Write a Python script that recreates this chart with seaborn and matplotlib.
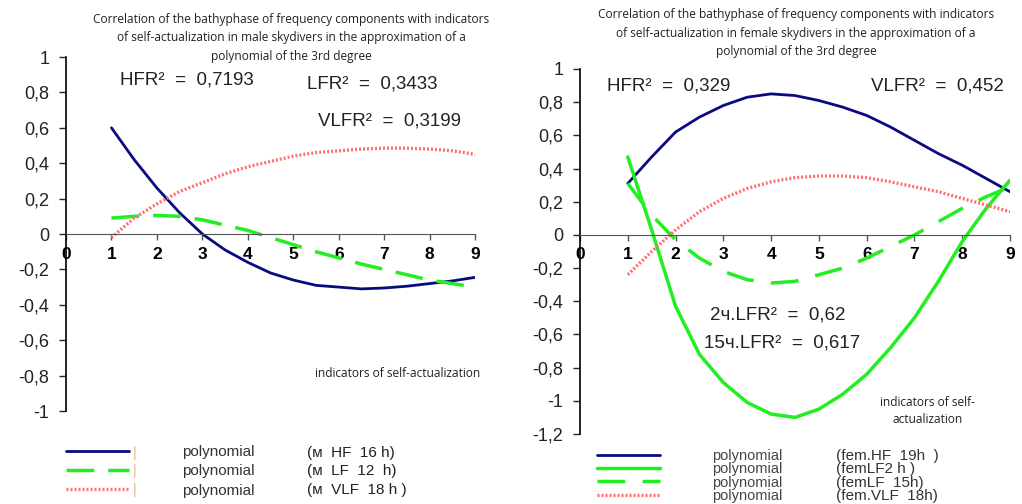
import numpy as np
import pandas as pd
import seaborn as sns
import matplotlib.pyplot as plt

# x positions of the trend lines (indicators of self-actualization)
x_vals = [1, 1.5, 2, 2.5, 3, 3.5, 4, 4.5, 5, 5.5, 6, 6.5, 7, 7.5, 8, 8.5, 9]

# male skydivers
male_hf = [0.60, 0.42, 0.26, 0.12, 0.0, -0.09, -0.16, -0.22, -0.26, -0.29, -0.30,
           -0.31, -0.305, -0.295, -0.28, -0.265, -0.245]
male_lf = [0.09, 0.10, 0.105, 0.10, 0.08, 0.05, 0.02, -0.02, -0.06, -0.10, -0.135,
           -0.17, -0.20, -0.23, -0.26, -0.28, -0.30]
male_vlf = [-0.02, 0.09, 0.17, 0.24, 0.29, 0.34, 0.38, 0.41, 0.44, 0.46, 0.47,
            0.48, 0.485, 0.485, 0.48, 0.47, 0.45]

# female skydivers
fem_hf = [0.31, 0.47, 0.62, 0.71, 0.78, 0.83, 0.85, 0.84, 0.81, 0.77, 0.72,
          0.65, 0.57, 0.49, 0.42, 0.34, 0.26]
fem_lf2 = [0.47, 0.03, -0.43, -0.72, -0.89, -1.01, -1.08, -1.10, -1.05, -0.96, -0.84,
           -0.68, -0.50, -0.28, -0.04, 0.16, 0.33]
fem_lf15 = [0.31, 0.12, -0.03, -0.14, -0.22, -0.27, -0.29, -0.28, -0.24, -0.20, -0.14,
            -0.07, 0.0, 0.08, 0.16, 0.23, 0.29]
fem_vlf = [-0.24, -0.10, 0.03, 0.14, 0.22, 0.28, 0.32, 0.345, 0.355, 0.355, 0.345,
           0.32, 0.29, 0.26, 0.22, 0.18, 0.14]

x_ticks = list(range(10))
male_yticks = [-1, -0.8, -0.6, -0.4, -0.2, 0, 0.2, 0.4, 0.6, 0.8, 1]
male_ylabels = ['-1', '-0,8', '-0,6', '-0,4', '-0,2', '0', '0,2', '0,4', '0,6', '0,8', '1']
fem_yticks = [-1.2, -1, -0.8, -0.6, -0.4, -0.2, 0, 0.2, 0.4, 0.6, 0.8, 1]
fem_ylabels = ['-1,2', '-1', '-0,8', '-0,6', '-0,4', '-0,2', '0', '0,2', '0,4', '0,6', '0,8', '1']

male_title = ('Correlation of the bathyphase of frequency components with indicators\n'
              'of self-actualization in male skydivers in the approximation of a\n'
              'polynomial of the 3rd degree')
fem_title = ('Correlation of the bathyphase of frequency components with indicators\n'
             'of self-actualization in female skydivers in the approximation of a\n'
             'polynomial of the 3rd degree')

male_names = ['(м  HF  16 h)', '(м  LF  12  h)', '(м  VLF  18 h )']
fem_names = ['(fem.HF  19h  )', '(femLF2 h )', '(femLF  15h)', '(fem.VLF  18h)']

NAVY = '#0a0a80'
GREEN = '#22ee22'
PINK = '#ff6f6f'

sns.set_style('white')
plt.rcParams['font.family'] = ['Liberation Sans', 'DejaVu Sans']

fig = plt.figure(figsize=(10.22, 5.04), dpi=100)
ax1 = fig.add_axes([0.0646, 0.1845, 0.4002, 0.7024])
ax2 = fig.add_axes([0.5675, 0.1389, 0.4208, 0.7242])

df_m = pd.DataFrame({'x': x_vals, 'hf': male_hf, 'lf': male_lf, 'vlf': male_vlf})
df_f = pd.DataFrame({'x': x_vals, 'hf': fem_hf, 'lf2': fem_lf2, 'lf15': fem_lf15, 'vlf': fem_vlf})

sns.lineplot(data=df_m, x='x', y='hf', ax=ax1, color=NAVY, lw=2)
sns.lineplot(data=df_m, x='x', y='lf', ax=ax1, color=GREEN, lw=2.5, linestyle=(0, (8, 4)))
sns.lineplot(data=df_m, x='x', y='vlf', ax=ax1, color=PINK, lw=2.4, linestyle=(0, (0.6, 0.6)))

sns.lineplot(data=df_f, x='x', y='hf', ax=ax2, color=NAVY, lw=2)
sns.lineplot(data=df_f, x='x', y='lf2', ax=ax2, color=GREEN, lw=2.5)
sns.lineplot(data=df_f, x='x', y='lf15', ax=ax2, color=GREEN, lw=2.5, linestyle=(0, (8, 5)))
sns.lineplot(data=df_f, x='x', y='vlf', ax=ax2, color=PINK, lw=2.4, linestyle=(0, (0.6, 0.6)))

for ax, yt, yl, ylim in [(ax1, male_yticks, male_ylabels, (-1, 1)),
                         (ax2, fem_yticks, fem_ylabels, (-1.2, 1))]:
    ax.set_xlim(0, 9)
    ax.set_ylim(*ylim)
    ax.set_xticks(x_ticks)
    ax.set_xticklabels([str(t) for t in x_ticks])
    ax.set_yticks(yt)
    ax.set_yticklabels(yl)
    ax.set_xlabel('')
    ax.set_ylabel('')
    ax.spines['top'].set_visible(False)
    ax.spines['right'].set_visible(False)
    ax.spines['bottom'].set_position(('data', 0))
    ax.spines['bottom'].set_color('#555555')
    ax.spines['left'].set_color('black')
    ax.spines['left'].set_linewidth(1.2)
    ax.tick_params(axis='y', direction='out', length=5, width=1, pad=7, left=True,
                   labelsize=13, labelcolor='#222222')
    ax.tick_params(axis='x', direction='out', length=4, width=1, pad=5, bottom=True,
                   colors='#555555', labelcolor='black', labelsize=12.5)
    for lbl in ax.get_xticklabels():
        lbl.set_fontweight('bold')
    ax.patch.set_alpha(0)

# titles
fig.text(291 / 1022, 1 - 13 / 504, male_title, ha='center', va='top', fontsize=8.6,
         family=['Open Sans', 'DejaVu Sans'], color='#222222', linespacing=1.55)
fig.text(796 / 1022, 1 - 8 / 504, fem_title, ha='center', va='top', fontsize=8.6,
         family=['Open Sans', 'DejaVu Sans'], color='#222222', linespacing=1.55)

# R² annotations
ann = dict(fontsize=13.5, va='center', color='#222222')
ax1.text(1.19, 0.87, 'HFR²  =  0,7193', **ann)
ax1.text(5.3, 0.85, 'LFR²  =  0,3433', **ann)
ax1.text(5.55, 0.64, 'VLFR²  =  0,3199', **ann)
ax1.text(7.3, -0.79, 'indicators of self-actualization', ha='center', va='center',
         fontsize=8.6, family=['Open Sans', 'DejaVu Sans'], color='#222222')

ax2.text(0.56, 0.90, 'HFR²  =  0,329', **ann)
ax2.text(6.09, 0.90, 'VLFR²  =  0,452', **ann)
ax2.text(2.72, -0.48, '2ч.LFR²  =  0,62', **ann)
ax2.text(2.6, -0.65, '15ч.LFR²  =  0,617', **ann)
ax2.text(7.28, -1.06, 'indicators of self-\nactualization', ha='center', va='center',
         fontsize=8.6, family=['Open Sans', 'DejaVu Sans'], color='#222222', linespacing=1.45)

# legends
leg1 = fig.legend(handles=ax1.get_lines()[:3], labels=['polynomial'] * 3, loc='upper left',
                  bbox_to_anchor=(66 / 1022, 1 - 445 / 504), frameon=False, fontsize=11,
                  handlelength=4.1, handletextpad=3.5, labelspacing=0.35,
                  borderpad=0, borderaxespad=0)
for t in leg1.get_texts():
    t.set_color('#333333')
for i, name in enumerate(male_names):
    y = 1 - (453 + 18.5 * i) / 504
    fig.text(307 / 1022, y, name, fontsize=11, va='center', color='#222222')
    fig.text(133 / 1022, y, '|', fontsize=10, va='center', color='#e8b48a')

leg2 = fig.legend(handles=ax2.get_lines()[:4], labels=['polynomial'] * 4, loc='upper left',
                  bbox_to_anchor=(597 / 1022, 1 - 449 / 504), frameon=False, fontsize=10.5,
                  handlelength=4.3, handletextpad=3.6, labelspacing=-0.05,
                  borderpad=0, borderaxespad=0)
for t in leg2.get_texts():
    t.set_color('#444444')
for i, name in enumerate(fem_names):
    y = 1 - (456 + 13.3 * i) / 504
    fig.text(836 / 1022, y, name, fontsize=11, va='center', color='#333333')

fig.savefig('out.png', dpi=100)
